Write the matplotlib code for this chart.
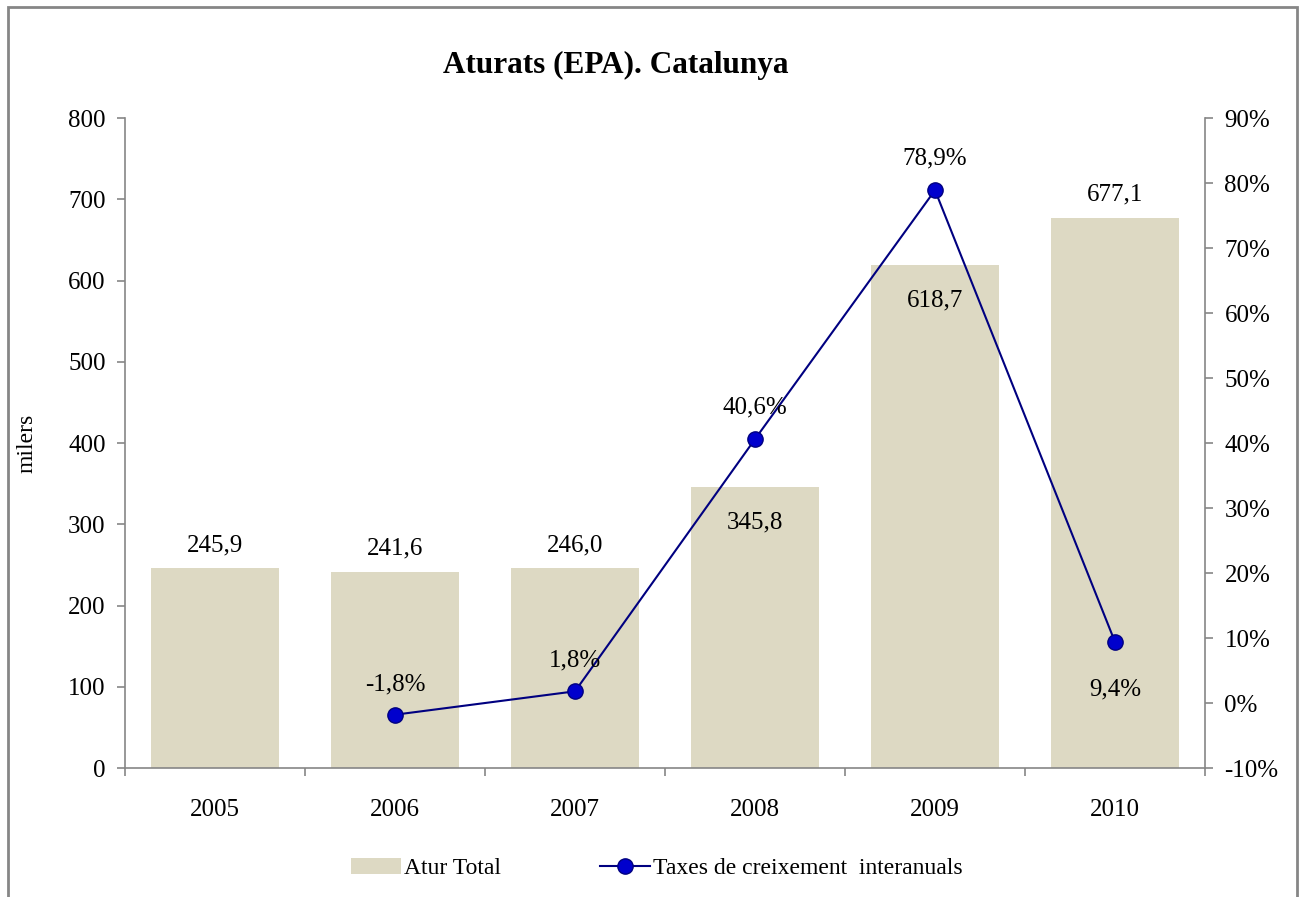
import numpy as np
import matplotlib.pyplot as plt
from matplotlib.patches import Rectangle
from matplotlib.ticker import FuncFormatter

plt.rcParams['font.family'] = ['Liberation Serif', 'DejaVu Serif']

# Dades
anys = ['2005', '2006', '2007', '2008', '2009', '2010']
atur = [245.9, 241.6, 246.0, 345.8, 618.7, 677.1]
taxes_anys = ['2006', '2007', '2008', '2009', '2010']
taxes = [-1.8, 1.8, 40.6, 78.9, 9.4]

gris = '#868686'
fig = plt.figure(figsize=(13.01, 8.97), dpi=100)
ax = fig.add_axes([0.0961, 0.1438, 0.8301, 0.7246])

x = np.arange(len(anys))
barres = ax.bar(x, atur, width=0.71, color='#DDD9C3', label='Atur Total', zorder=1)
ax.set_xlim(-0.5, len(anys) - 0.5)
ax.set_ylim(0, 800)
ax.set_yticks(range(0, 801, 100))
ax.set_xticks(x)
ax.set_xticklabels(anys)
ax.set_xticks(np.arange(-0.5, len(anys), 1), minor=True)
ax.tick_params(axis='x', which='major', length=0, pad=22, labelsize=18)
ax.tick_params(axis='x', which='minor', length=6, color=gris, width=1.2)
ax.tick_params(axis='y', length=6, color=gris, width=1.2, labelsize=18, pad=8)
ax.set_ylabel('milers', fontsize=17, labelpad=22)
for s in ['top', 'right']:
    ax.spines[s].set_visible(False)
for s in ['left', 'bottom']:
    ax.spines[s].set_color(gris)
    ax.spines[s].set_linewidth(1.2)

# etiquetes de les barres
desp_barres = [23, 23, 23, -35, -35, 23]
for xi, v, d in zip(x, atur, desp_barres):
    ax.annotate(f'{v:.1f}'.replace('.', ','), (xi, v), xytext=(0, d * 0.72),
                textcoords='offset points', ha='center', va='center', fontsize=18)

ax2 = ax.twinx()
xl = [anys.index(a) for a in taxes_anys]
ax2.plot(xl, taxes, color='#000080', lw=1.5, marker='o', markersize=11,
         markerfacecolor='#0000CD', markeredgecolor='#000080', zorder=3,
         label='Taxes de creixement  interanuals')
ax2.set_ylim(-10, 90)
ax2.set_yticks(range(-10, 91, 10))
ax2.yaxis.set_major_formatter(FuncFormatter(lambda v, p: f'{v:.0f}%'))
ax2.tick_params(axis='y', length=6, color=gris, width=1.2, labelsize=18, pad=8)
for s in ['top', 'left', 'bottom']:
    ax2.spines[s].set_visible(False)
ax2.spines['right'].set_color(gris)
ax2.spines['right'].set_linewidth(1.2)

desp_taxes = [30, 31, 32, 32, -48]
for xi, v, d in zip(xl, taxes, desp_taxes):
    ax2.annotate(f'{v:.1f}%'.replace('.', ','), (xi, v), xytext=(0, d * 0.72),
                 textcoords='offset points', ha='center', va='center', fontsize=18)

fig.text(0.4735, 0.927, 'Aturats (EPA). Catalunya', ha='center', va='center',
         fontsize=22.5, fontweight='bold')

h1, l1 = ax.get_legend_handles_labels()
h2, l2 = ax2.get_legend_handles_labels()
fig.legend(h1 + h2, l1 + l2, loc='center', bbox_to_anchor=(0.505, 0.032), ncol=2,
           frameon=False, fontsize=17, columnspacing=4.2, handlelength=2.1,
           handletextpad=0.15)

# marc exterior
fig.patches.append(Rectangle((8 / 1301, -0.05), 1289 / 1301, 1.05 - 7 / 897,
                             transform=fig.transFigure, fill=False,
                             edgecolor=gris, lw=2, clip_on=False))

fig.savefig('out.png', dpi=100)
